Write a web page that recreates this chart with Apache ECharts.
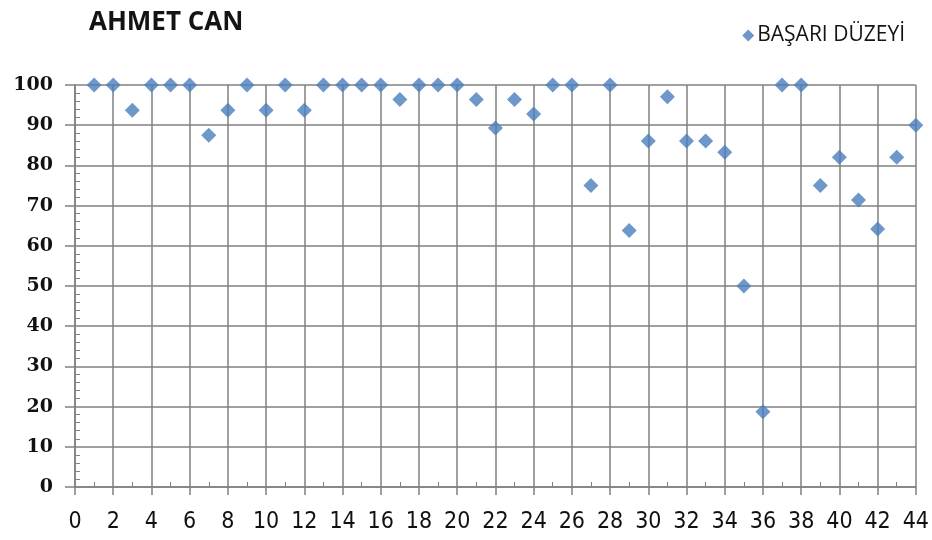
<!DOCTYPE html>
<html>
<head>
<meta charset="utf-8">
<script src="https://cdn.jsdelivr.net/npm/echarts@6/dist/echarts.min.js"></script>
<style>
  html, body { margin: 0; padding: 0; background: #ffffff; }
  #chart { width: 932px; height: 540px; }
</style>
</head>
<body>
<div id="chart"></div>
<script>
// Student numbers along the x axis
const studentNos = [1, 2, 3, 4, 5, 6, 7, 8, 9, 10, 11, 12, 13, 14, 15, 16, 17, 18, 19, 20, 21, 22,
                    23, 24, 25, 26, 27, 28, 29, 30, 31, 32, 33, 34, 35, 36, 37, 38, 39, 40, 41, 42, 43, 44];
// Success level (%) for each student number
const scores = [100, 100, 93.75, 100, 100, 100, 87.5, 93.75, 100, 93.75, 100, 93.75, 100, 100, 100, 100,
                96.4, 100, 100, 100, 96.4, 89.3, 96.4, 92.8, 100, 100, 75, 100, 63.8, 86.1, 97.1, 86.1,
                86.1, 83.3, 50, 18.75, 100, 100, 75, 82, 71.4, 64.2, 82, 90];
const titleText = 'AHMET CAN';
const seriesName = 'BAŞARI DÜZEYİ';
const xRange = [0, 44];
const yRange = [0, 100];

const points = studentNos.map((n, i) => [n, scores[i]]);

const gridGray = '#808080';

const chart = echarts.init(document.getElementById('chart'), null, { renderer: 'canvas' });
chart.setOption({
  animation: false,
  backgroundColor: '#ffffff',
  title: {
    text: titleText,
    left: 84,
    top: 5,
    textStyle: {
      fontFamily: 'Open Sans',
      fontWeight: 'bold',
      fontSize: 26,
      color: '#141414'
    }
  },
  legend: {
    right: 22,
    top: 20,
    icon: 'diamond',
    itemWidth: 12,
    itemHeight: 12,
    itemGap: 4,
    textStyle: {
      fontFamily: 'Open Sans',
      fontSize: 21,
      color: '#141414',
      padding: [0, 0, 0, -2]
    },
    data: [seriesName]
  },
  grid: { left: 75, right: 15, top: 85, bottom: 53, containLabel: false },
  xAxis: [
    {
      type: 'value',
      min: xRange[0],
      max: xRange[1],
      interval: 2,
      axisLine: { show: true, lineStyle: { color: gridGray, width: 1.5 } },
      axisTick: { show: true, length: 8, lineStyle: { color: gridGray, width: 1.5 } },
      axisLabel: {
        margin: 24,
        fontFamily: "'DejaVu Sans Condensed', Roboto, sans-serif",
        fontWeight: 500,
        fontSize: 23,
        color: '#111111'
      },
      splitLine: { show: true, lineStyle: { color: gridGray, width: 1.5 } }
    },
    {
      // minor ticks on the inner side of the x axis
      type: 'value',
      min: xRange[0],
      max: xRange[1],
      interval: 2,
      position: 'bottom',
      axisLine: { show: false },
      axisTick: { show: false, inside: true },
      axisLabel: { show: false },
      splitLine: { show: false },
      minorTick: { show: true, splitNumber: 2, length: 5, lineStyle: { color: gridGray, width: 1 } }
    }
  ],
  yAxis: [
    {
      type: 'value',
      min: yRange[0],
      max: yRange[1],
      interval: 10,
      axisLine: { show: true, lineStyle: { color: gridGray, width: 1.5 } },
      axisTick: { show: true, length: 10, lineStyle: { color: gridGray, width: 1.5 } },
      axisLabel: {
        margin: 22,
        fontFamily: 'DejaVu Serif',
        fontWeight: 'bold',
        fontSize: 19,
        color: '#111111'
      },
      splitLine: { show: true, lineStyle: { color: gridGray, width: 1.5 } }
    },
    {
      // minor ticks on the inner side of the y axis
      type: 'value',
      min: yRange[0],
      max: yRange[1],
      interval: 10,
      position: 'left',
      axisLine: { show: false },
      axisTick: { show: false, inside: true },
      axisLabel: { show: false },
      splitLine: { show: false },
      minorTick: { show: true, splitNumber: 5, length: 5, lineStyle: { color: gridGray, width: 1 } }
    }
  ],
  series: [
    {
      name: seriesName,
      type: 'scatter',
      xAxisIndex: 0,
      yAxisIndex: 0,
      symbol: 'diamond',
      symbolSize: 15,
      clip: false,
      itemStyle: { color: '#4a7ebb' },
      data: points
    }
  ]
});
</script>
</body>
</html>
